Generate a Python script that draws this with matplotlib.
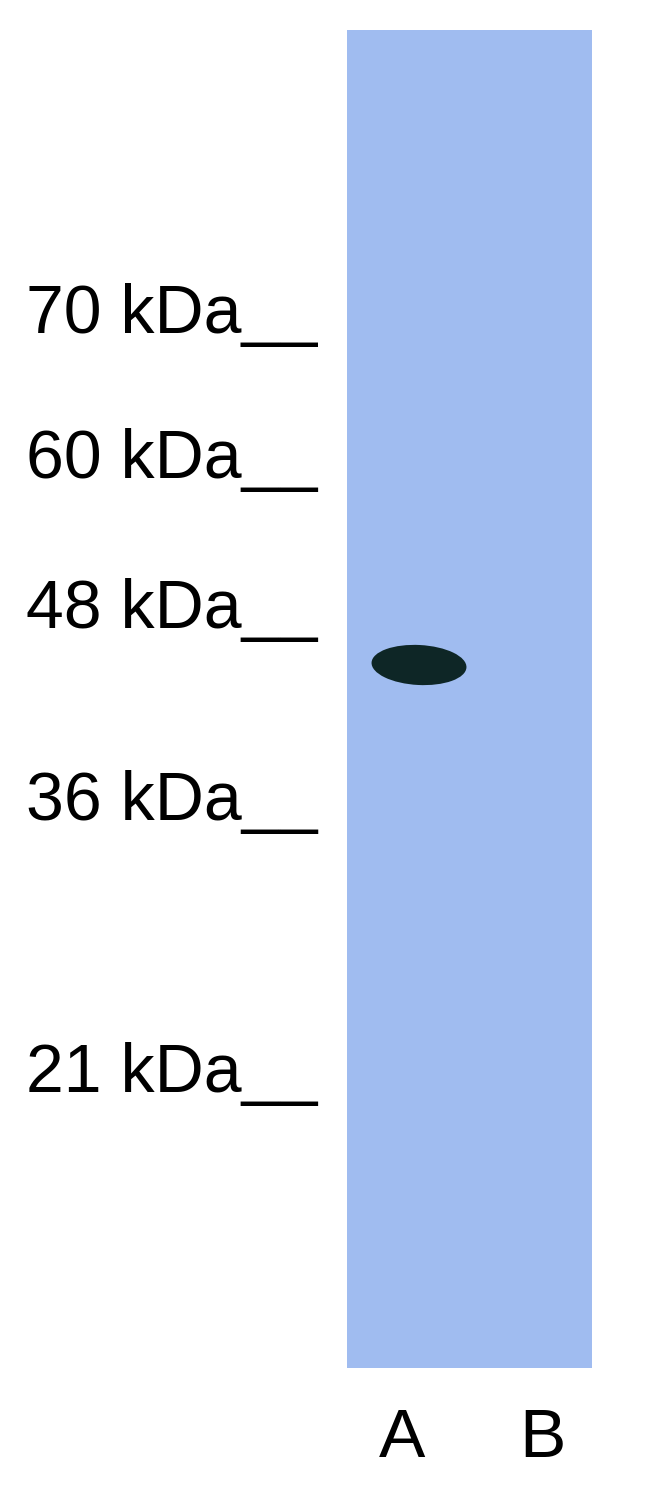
import matplotlib.pyplot as plt
from matplotlib.patches import Rectangle, Ellipse
plt.rcParams['font.family'] = ['Liberation Sans', 'DejaVu Sans']

# marker ladder (kDa) and where each one sits on the blot (pixel rows)
markers = [70, 60, 48, 36, 21]
marker_y = [333, 478, 628, 820, 1092]
lanes = ["A", "B"]
lane_x = [402, 542]
# detected band: lane, row, width, height
band_lane = "A"
band_y = 665
band_w = 95
band_h = 40

fig = plt.figure(figsize=(6.5, 14.93), dpi=100)
ax = fig.add_axes([0, 0, 1, 1])
ax.set_xlim(0, 650)
ax.set_ylim(1493, 0)
ax.axis("off")

ax.add_patch(Rectangle((347, 30), 245, 1338, color="#a0bcf0", lw=0))
ax.add_patch(Ellipse((lane_x[lanes.index(band_lane)] + 17, band_y), band_w, band_h,
                     angle=3, color="#0e2626", lw=0))

for m, y in zip(markers, marker_y):
    ax.text(317, y, f"{m} kDa__", ha="right", va="baseline", fontsize=49, color="black")

for name, x in zip(lanes, lane_x):
    ax.text(x, 1457, name, ha="center", va="baseline", fontsize=50, color="black")

fig.savefig("out.png", dpi=100)
